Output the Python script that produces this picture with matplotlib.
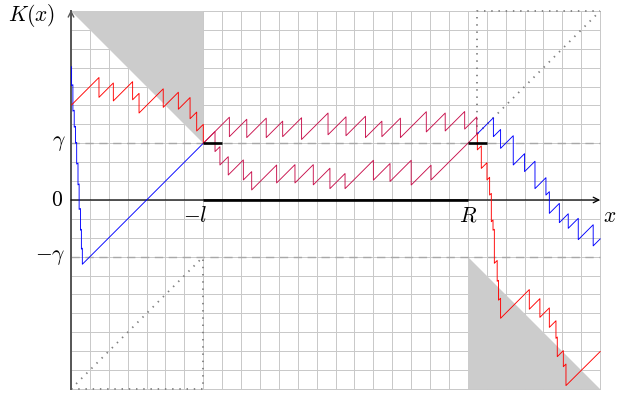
import matplotlib

matplotlib.use("Agg")

import matplotlib.pyplot as plt

plt.rcParams["mathtext.fontset"] = "cm"

GAMMA = 3.0
L_POS = 7.0
R_POS = 21.0
X_MAX = 28.0
Y_MAX = 10.0

# blue branch on the left: steep fall, then straight rise to (-l, gamma)
blue_left_x = [0.03, 0.03, 0.1, 0.1, 0.17, 0.17, 0.24, 0.24, 0.3, 0.3, 0.37, 0.37,
               0.43, 0.43, 0.5, 0.5, 0.55, 0.55, 0.6, 0.6, 7.0]
blue_left_y = [7.05, 6.05, 6.1, 4.7, 4.75, 3.85, 3.9, 3.0, 3.05, 1.9, 1.95, 0.8,
               0.85, -0.5, -0.45, -1.6, -1.55, -2.6, -2.55, -3.4, 3.0]

# red branch near the upper-left triangle
red_left_x = [0.03, 1.48, 1.48, 2.24, 2.24, 3.26, 3.26, 3.6, 3.6, 4.88, 4.88,
              5.68, 5.68, 6.3, 6.3, 6.65, 6.65, 7.0, 7.0]
red_left_y = [5.03, 6.48, 5.43, 6.19, 5.24, 6.26, 5.3, 5.64, 4.6, 5.88, 4.9,
              5.7, 4.8, 5.42, 4.3, 4.65, 3.65, 4.0, 3.0]

# two crimson branches between -l and R
upper_x = [7.0, 8.38, 8.38, 9.3, 9.3, 10.33, 10.33, 11.2, 11.2, 12.2, 12.2, 13.6,
           13.6, 14.55, 14.55, 15.58, 15.58, 16.45, 16.45, 17.43, 17.43, 18.8,
           18.8, 19.8, 19.8, 20.83, 20.83, 21.47, 21.47]
upper_y = [3.0, 4.38, 3.35, 4.27, 3.3, 4.33, 3.3, 4.17, 3.35, 4.35, 3.2, 4.6,
           3.45, 4.4, 3.4, 4.43, 3.3, 4.17, 3.35, 4.33, 3.3, 4.67,
           3.6, 4.6, 3.65, 4.68, 3.75, 4.39, 3.5]

lower_x = [7.0, 7.62, 7.62, 7.88, 7.88, 8.32, 8.32, 9.12, 9.12, 9.56, 9.56, 10.88,
           10.88, 11.85, 11.85, 12.82, 12.82, 13.7, 13.7, 14.5, 14.5, 16.0, 16.0,
           16.88, 16.88, 18.0, 18.0, 19.05, 19.05, 21.5]
lower_y = [3.0, 3.62, 2.56, 2.82, 1.85, 2.29, 1.32, 2.12, 1.06, 1.5, 0.53, 1.85,
           0.9, 1.87, 0.9, 1.87, 0.8, 1.68, 0.6, 1.4, 0.6, 2.1, 1.05,
           1.93, 0.98, 2.1, 0.79, 1.84, 1.06, 3.5]

# branches leaving R
blue_right_x = [21.5, 22.35, 22.35, 22.73, 22.73, 23.4, 23.4, 24.0, 24.0, 24.55,
                24.55, 25.13, 25.13, 25.31, 25.31, 25.84, 25.84, 26.31, 26.31,
                26.84, 26.84, 27.63, 27.63, 28.0]
blue_right_y = [3.5, 4.35, 3.35, 3.73, 2.73, 3.4, 1.85, 2.45, 1.5, 2.05,
                0.6, 1.18, 0.26, 0.44, -0.71, -0.18, -1.2, -0.73, -1.5,
                -0.97, -2.1, -1.31, -2.43, -2.06]

red_right_x = [21.5, 21.5, 21.71, 21.71, 22.01, 22.01, 22.15, 22.15, 22.24, 22.24,
               22.33, 22.33, 22.4, 22.4, 22.55, 22.55, 22.62, 22.62, 22.73, 22.73,
               24.25, 24.25, 24.81, 24.81, 25.31, 25.31, 25.66, 25.66, 25.73, 25.73,
               26.05, 26.05, 26.19, 26.19, 28.0]
red_right_y = [3.5, 2.65, 2.86, 1.67, 1.97, 1.06, 1.2, 0.26, 0.35, -1.15,
               -1.06, -1.6, -1.55, -3.35, -3.2, -4.3, -4.25, -5.3, -5.2, -6.26,
               -4.74, -5.78, -5.22, -6.21, -5.71, -6.74, -6.39, -7.32, -7.25, -8.29,
               -7.97, -8.82, -8.68, -9.82, -8.02]

fig = plt.figure(figsize=(6.17, 3.94), dpi=100)
ax = fig.add_axes([0, 0, 1, 1])
ax.set_xlim(-3.757, 28.89)
ax.set_ylim(-10.265, 10.58)
ax.axis("off")

grid_c = "#c8c8c8"
for gx in range(0, int(X_MAX) + 1):
    ax.plot([gx, gx], [-Y_MAX, Y_MAX], color=grid_c, lw=0.7, zorder=0)
for gy in range(-int(Y_MAX), int(Y_MAX) + 1):
    ax.plot([0, X_MAX], [gy, gy], color=grid_c, lw=0.7, zorder=0)

# shaded triangles
ax.fill([0, L_POS, L_POS], [Y_MAX, Y_MAX, GAMMA], color="#cccccc", lw=0, zorder=1)
ax.fill([R_POS, R_POS, X_MAX], [-GAMMA, -Y_MAX, -Y_MAX], color="#cccccc", lw=0, zorder=1)

# dotted boxes
dot = dict(color="#808080", lw=1.3, ls=(0, (0.8, 3.2)), zorder=2)
ax.plot([0, L_POS, L_POS], [-Y_MAX, -Y_MAX, -GAMMA], **dot)
ax.plot([0, L_POS], [-Y_MAX, -GAMMA], **dot)
ax.plot([21.5, 21.5, X_MAX], [3.5, Y_MAX, Y_MAX], **dot)
ax.plot([21.5, X_MAX], [3.5, Y_MAX], **dot)

# gamma levels
for lev in (GAMMA, -GAMMA):
    ax.plot([0, X_MAX], [lev, lev], color="#a8a8a8", lw=1.0, ls=(0, (6, 4)), zorder=2)

# axes
ax.plot([0, 0], [-Y_MAX, Y_MAX], color="#555555", lw=1.4, zorder=3)
ax.annotate("", xy=(0, Y_MAX + 0.2), xytext=(0, Y_MAX - 0.3),
            arrowprops=dict(arrowstyle="->", color="#555555", lw=1.0), zorder=3)
ax.annotate("", xy=(X_MAX, 0), xytext=(0, 0),
            arrowprops=dict(arrowstyle="->", color="black", lw=0.9,
                            shrinkA=0, shrinkB=0), zorder=3)

# curves
ax.plot(blue_left_x, blue_left_y, color="#0000ff", lw=0.65, zorder=4)
ax.plot(red_left_x, red_left_y, color="#ff0000", lw=0.65, zorder=4)
ax.plot(upper_x, upper_y, color="#c8104c", lw=0.65, zorder=4)
ax.plot(lower_x, lower_y, color="#c8104c", lw=0.65, zorder=4)
ax.plot(blue_right_x, blue_right_y, color="#0000ff", lw=0.65, zorder=4)
ax.plot(red_right_x, red_right_y, color="#ff0000", lw=0.65, zorder=4)

# thick black segments
ax.plot([L_POS, R_POS], [0, 0], color="black", lw=1.9, solid_capstyle="butt", zorder=5)
ax.plot([L_POS, L_POS + 1], [GAMMA, GAMMA], color="black", lw=1.9, solid_capstyle="butt", zorder=5)
ax.plot([R_POS, R_POS + 1], [GAMMA, GAMMA], color="black", lw=1.9, solid_capstyle="butt", zorder=5)

fs = 15.5
ax.text(-2.1, 9.75, r"$K(x)$", fontsize=fs, ha="center", va="center")
ax.text(-0.3, GAMMA, r"$\gamma$", fontsize=fs, ha="right", va="center")
ax.text(-0.4, 0, r"$0$", fontsize=fs, ha="right", va="center")
ax.text(-0.3, -GAMMA, r"$-\gamma$", fontsize=fs, ha="right", va="center")
ax.text(L_POS + 0.2, -0.3, r"$-l$", fontsize=fs, ha="right", va="top")
ax.text(R_POS, -0.3, r"$R$", fontsize=fs, ha="center", va="top")
ax.text(28.15, -0.3, r"$x$", fontsize=fs, ha="left", va="top")

fig.savefig("out.png", dpi=100)
